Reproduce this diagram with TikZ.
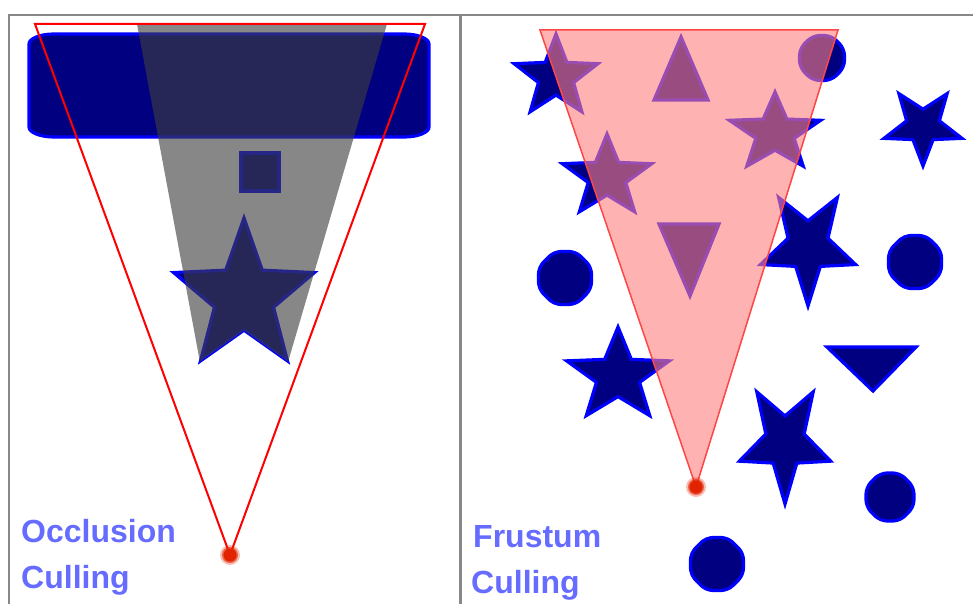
\documentclass[tikz,border=0pt]{standalone}
\usepackage{fontspec}
\setmainfont{Liberation Sans}
\definecolor{navyc}{RGB}{0,0,128}
\definecolor{bluec}{RGB}{0,0,255}
\definecolor{grayline}{RGB}{136,136,136}
\definecolor{shadowc}{RGB}{62,62,62}
\definecolor{pinkc}{RGB}{255,127,127}
\definecolor{txtc}{RGB}{102,108,255}
\definecolor{dotc}{RGB}{225,35,0}
\definecolor{frustc}{RGB}{255,70,70}
\newcommand\StarObj[6]{%
  \begin{scope}[shift={(#1,#2)}, xscale=#3, yscale=#4]
  \path[#6] (#5:1) -- ({#5+36}:0.42) -- ({#5+72}:1) -- ({#5+108}:0.42)
    -- ({#5+144}:1) -- ({#5+180}:0.42) -- ({#5+216}:1) -- ({#5+252}:0.42)
    -- ({#5+288}:1) -- ({#5+324}:0.42) -- cycle;
  \end{scope}}
\newcommand\OctObj[4]{%
  \begin{scope}[shift={(#1,#2)}, scale=#3]
  \path[#4] (22.5:1.0824) -- (67.5:1.0824) -- (112.5:1.0824) -- (157.5:1.0824)
    -- (202.5:1.0824) -- (247.5:1.0824) -- (292.5:1.0824) -- (337.5:1.0824) -- cycle;
  \end{scope}}
\begin{document}
\begin{tikzpicture}[x=1pt, y=-1pt,
  obj/.style={fill=navyc, draw=bluec, line width=3.2pt, line join=miter, miter limit=20},
  octo/.style={fill=navyc, draw=bluec, line width=3.2pt, rounded corners=7pt},
  lbl/.style={inner sep=0pt, text=txtc, anchor=base west,
    font=\fontsize{32}{38}\selectfont\bfseries},
  panel/.style={draw=grayline, line width=2.5pt},
  frustL/.style={draw=red, line width=2pt, line join=miter},
  frustR/.style={draw=frustc, line width=1.5pt, line join=miter}]
\useasboundingbox (0,0) rectangle (973,604);

% panel frames
\draw[panel] (973,15) -- (9,15) -- (9,604);
\draw[panel, line width=3pt] (460,15) -- (460,604);

% ---------- left panel: occlusion culling ----------
\path[obj] (54,34) -- (404,34)
  arc[start angle=-90, end angle=0, x radius=25, y radius=10] -- (429,127)
  arc[start angle=0, end angle=90, x radius=25, y radius=10] -- (54,137)
  arc[start angle=90, end angle=180, x radius=25, y radius=10] -- (29,44)
  arc[start angle=180, end angle=270, x radius=25, y radius=10] -- cycle;
\path[obj] (241,153) rectangle (279,191);
\StarObj{244}{297}{74}{79}{270}{obj}
\fill[shadowc, opacity=0.62] (137,24) -- (387,24) -- (288.1,361.7) -- (244,330.6) -- (199.9,361.7) -- cycle;
\coordinate (eyeL) at (230,555);
\draw[frustL] (35,24) -- (425,24) -- (eyeL) -- cycle;
\fill[dotc, opacity=0.3] (eyeL) circle (10);
\fill[dotc, opacity=0.6] (eyeL) circle (8);
\fill[dotc] (eyeL) circle (6.5);
\node[lbl] (occA) at (21,542) {Occlusion};
\node[lbl] (occB) at (21,588) {Culling};

% ---------- right panel: frustum culling ----------
\StarObj{556}{77}{44}{43}{270}{obj}
\path[obj] (681,37) -- (708,100) -- (654,100) -- cycle;
\OctObj{822}{58}{22.5}{octo}
\StarObj{775}{133}{48}{41}{270}{obj}
\StarObj{923}{126}{41}{40}{90}{obj}
\StarObj{607}{177}{47}{43}{270}{obj}
\path[obj] (659,224) -- (719,224) -- (690,296) -- cycle;
\StarObj{808}{246}{50}{60}{90}{obj}
\OctObj{565}{278}{26.5}{octo}
\OctObj{915}{262}{26.5}{octo}
\StarObj{618}{376}{54}{49}{270}{obj}
\path[obj] (827,347) -- (916,347) -- (873,391) -- cycle;
\StarObj{785}{442}{48}{62}{90}{obj}
\OctObj{890}{497}{24}{octo}
\OctObj{717}{564}{26.5}{octo}

\coordinate (eyeR) at (696,487);
\fill[pinkc, opacity=0.6] (540,30) -- (838,30) -- (eyeR) -- cycle;
\draw[frustR] (540,30) -- (838,30) -- (eyeR) -- cycle;
\fill[dotc, opacity=0.3] (eyeR) circle (10);
\fill[dotc, opacity=0.6] (eyeR) circle (8);
\fill[dotc] (eyeR) circle (6.5);
\node[lbl] (frA) at (473,547) {Frustum};
\node[lbl] (frB) at (471,593) {Culling};
\end{tikzpicture}
\end{document}
